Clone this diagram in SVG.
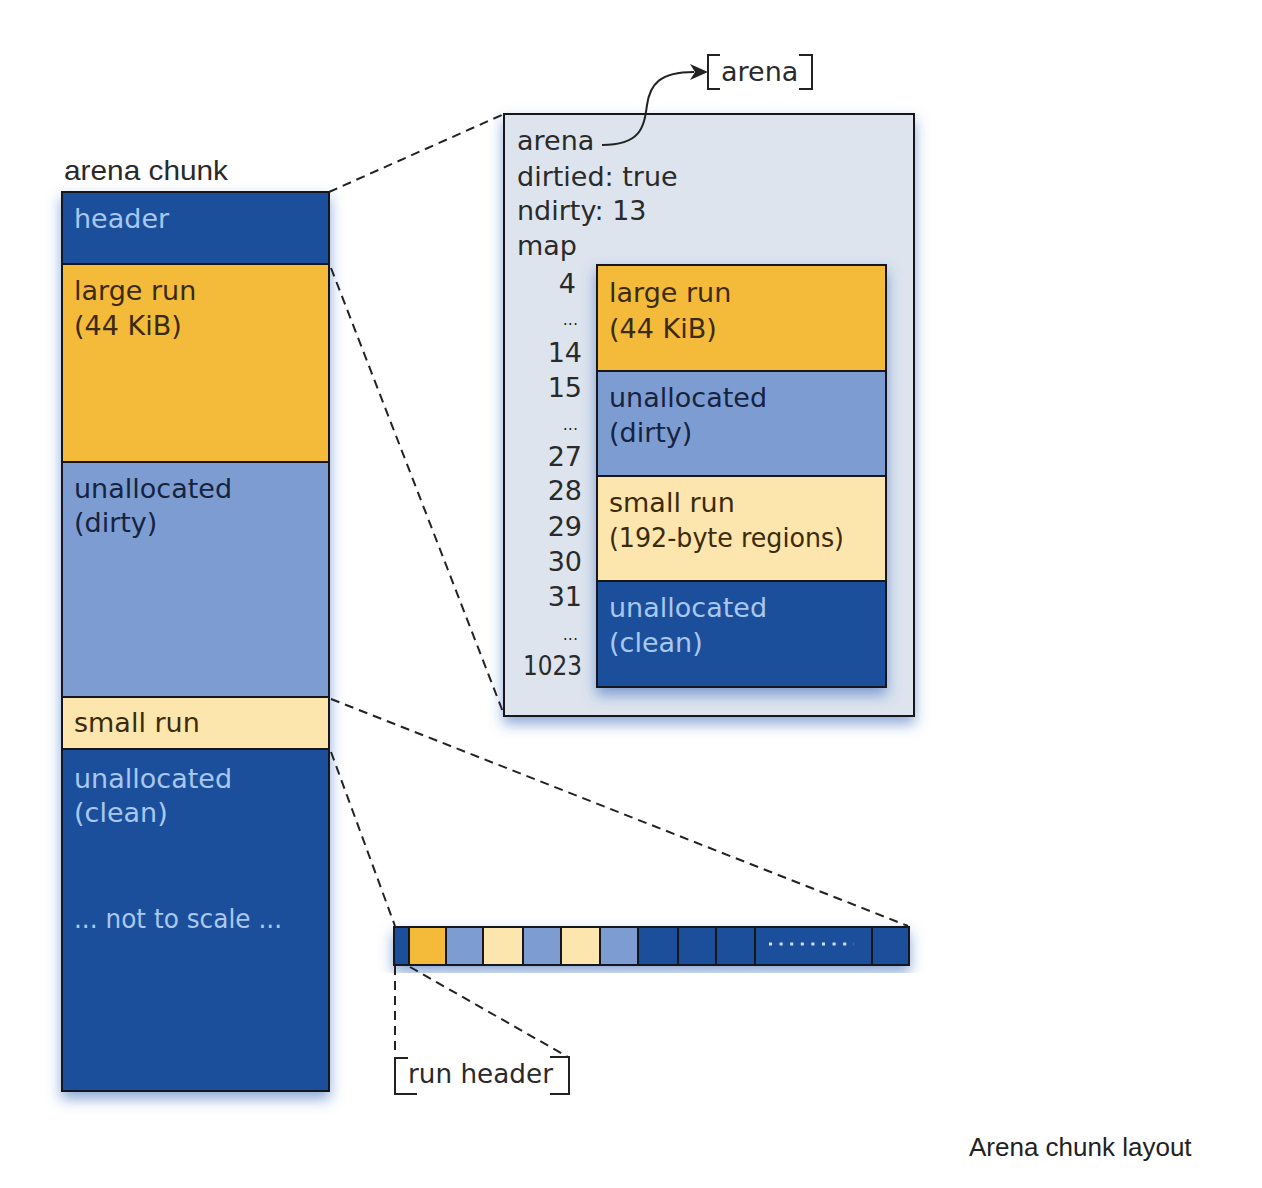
<svg xmlns="http://www.w3.org/2000/svg" width="1262" height="1188" viewBox="0 0 1262 1188">
<defs>
<filter id="sh" x="-20%" y="-20%" width="140%" height="140%">
<feDropShadow dx="0" dy="7" stdDeviation="7" flood-color="#2f62b8" flood-opacity="0.55"/>
</filter>
<style>
.t{font-family:"DejaVu Sans","Open Sans","Liberation Sans",sans-serif;font-size:27px}
.dk{fill:#2a2a2a}
.lt{fill:#a9c8f0}
.nv{fill:#16233f}
.br{fill:#3b2a0c}
.dash{fill:none;stroke:#222;stroke-width:2;stroke-dasharray:9 6}
.bd{stroke:#14161e;stroke-width:2}
.c1{fill:#1f4f9b}
.c2{fill:#f4bb3a}
.c3{fill:#7d9dd2}
.c4{fill:#fde6ad}
.num{text-anchor:end}
</style>
</defs>
<rect width="1262" height="1188" fill="#ffffff"/>

<g id="arena-chunk">
<text x="64" y="180" font-family="Liberation Sans, Arial, sans-serif" font-size="28" fill="#2a2a2a" textLength="164" lengthAdjust="spacingAndGlyphs">arena chunk</text>
<g filter="url(#sh)">
<rect class="c1 bd" x="62" y="192" width="267" height="72"/>
<rect class="c2 bd" x="62" y="264" width="267" height="198"/>
<rect class="c3 bd" x="62" y="462" width="267" height="235"/>
<rect class="c4 bd" x="62" y="697" width="267" height="52"/>
<rect class="c1 bd" x="62" y="749" width="267" height="342"/>
</g>
<text class="t lt" x="74" y="228">header</text>
<text class="t br" x="74" y="300">large run</text>
<text class="t br" x="74" y="335">(44 KiB)</text>
<text class="t nv" x="74" y="498">unallocated</text>
<text class="t nv" x="74" y="532">(dirty)</text>
<text class="t br" x="74" y="732">small run</text>
<text class="t lt" x="74" y="788">unallocated</text>
<text class="t lt" x="74" y="822">(clean)</text>
<text class="t lt" x="74" y="928" textLength="208" lengthAdjust="spacingAndGlyphs">... not to scale ...</text>
</g>

<g id="arena-label">
<path d="M 720 55 H 708 V 89 H 720 M 799 55 H 812 V 89 H 799" fill="none" stroke="#222" stroke-width="2"/>
<text class="t dk" x="721" y="81">arena</text>
</g>

<g id="arena-box">
<rect x="504" y="114" width="410" height="602" fill="#dde4ee" class="bd" filter="url(#sh)"/>
<text class="t dk" x="517" y="150">arena</text>
<text class="t dk" x="517" y="186">dirtied: true</text>
<text class="t dk" x="517" y="220">ndirty: 13</text>
<text class="t dk" x="517" y="255">map</text>
<g class="t dk num">
<text x="576" y="293">4</text>
<text x="578" y="325" font-size="16">...</text>
<text x="582" y="362">14</text>
<text x="582" y="397">15</text>
<text x="578" y="430" font-size="16">...</text>
<text x="582" y="466">27</text>
<text x="582" y="500">28</text>
<text x="582" y="536">29</text>
<text x="582" y="571">30</text>
<text x="582" y="606">31</text>
<text x="578" y="640" font-size="16">...</text>
<text x="582" y="675" textLength="59" lengthAdjust="spacingAndGlyphs">1023</text>
</g>
</g>

<g id="map">
<g filter="url(#sh)">
<rect class="c2 bd" x="597" y="265" width="289" height="106"/>
<rect class="c3 bd" x="597" y="371" width="289" height="105"/>
<rect class="c4 bd" x="597" y="476" width="289" height="105"/>
<rect class="c1 bd" x="597" y="581" width="289" height="106"/>
</g>
<text class="t br" x="609" y="302">large run</text>
<text class="t br" x="609" y="338">(44 KiB)</text>
<text class="t nv" x="609" y="407">unallocated</text>
<text class="t nv" x="609" y="442">(dirty)</text>
<text class="t br" x="609" y="512">small run</text>
<text class="t br" x="609" y="547" textLength="235" lengthAdjust="spacingAndGlyphs">(192-byte regions)</text>
<text class="t lt" x="609" y="617">unallocated</text>
<text class="t lt" x="609" y="652">(clean)</text>
</g>

<g id="small-run-strip">
<g filter="url(#sh)">
<rect class="c1 bd" x="394" y="927" width="15" height="38"/>
<rect class="c2 bd" x="409" y="927" width="37" height="38"/>
<rect class="c3 bd" x="446" y="927" width="37" height="38"/>
<rect class="c4 bd" x="483" y="927" width="40" height="38"/>
<rect class="c3 bd" x="523" y="927" width="38" height="38"/>
<rect class="c4 bd" x="561" y="927" width="39" height="38"/>
<rect class="c3 bd" x="600" y="927" width="38" height="38"/>
<rect class="c1 bd" x="638" y="927" width="40" height="38"/>
<rect class="c1 bd" x="678" y="927" width="38" height="38"/>
<rect class="c1 bd" x="716" y="927" width="39" height="38"/>
<rect class="c1 bd" x="755" y="927" width="117" height="38"/>
<rect class="c1 bd" x="872" y="927" width="37" height="38"/>
</g>
<line x1="769" y1="944" x2="854" y2="944" stroke="#cfe0f7" stroke-width="3" stroke-dasharray="3 7.6"/>
</g>

<g id="run-header">
<path d="M 408 1058 H 395 V 1094 H 417 M 550 1057 H 569 V 1094 H 550" fill="none" stroke="#222" stroke-width="2"/>
<text class="t dk" x="408" y="1083" textLength="145" lengthAdjust="spacingAndGlyphs">run header</text>
</g>

<g id="connectors">
<line class="dash" x1="329" y1="192" x2="504" y2="114"/>
<line class="dash" x1="331" y1="268" x2="503" y2="712"/>
<line class="dash" x1="331" y1="699" x2="908" y2="926"/>
<line class="dash" x1="331" y1="752" x2="395" y2="926"/>
<line class="dash" x1="395" y1="966" x2="395" y2="1050"/>
<line class="dash" x1="410" y1="967" x2="568" y2="1057"/>
<path d="M 602 145 C 640 145, 644 128, 647 105 C 650 84, 660 72, 694 72" fill="none" stroke="#222" stroke-width="2"/>
<polygon points="708,72 690,64 695,72 690,80" fill="#222"/>
</g>

<text x="969" y="1156" font-family="Liberation Sans, Arial, sans-serif" font-size="26" fill="#222">Arena chunk layout</text>
</svg>
